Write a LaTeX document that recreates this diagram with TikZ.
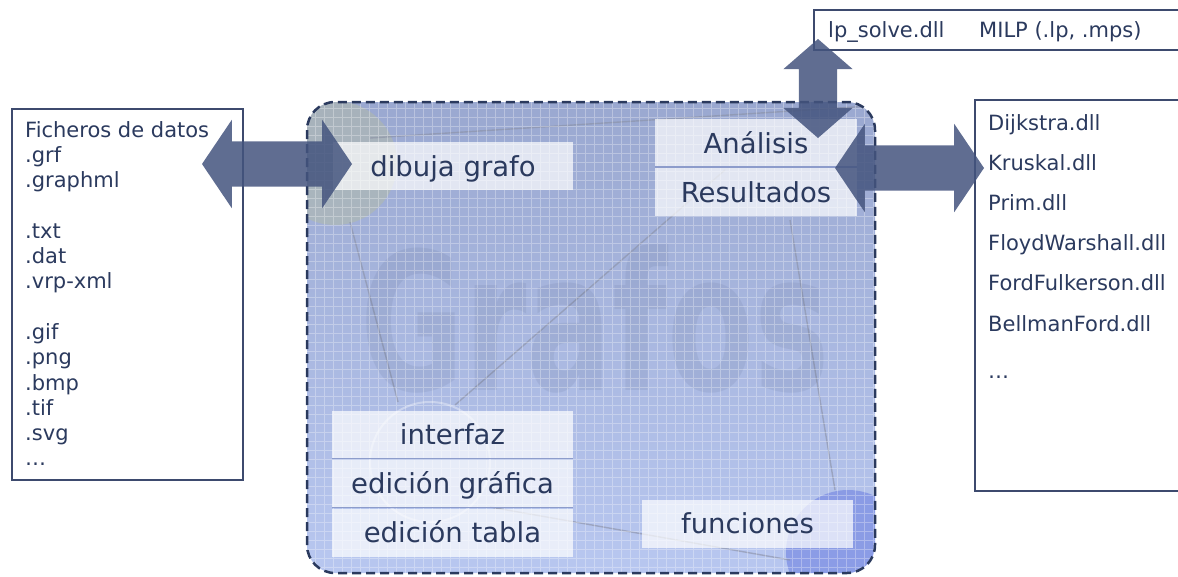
\documentclass[tikz,border=0pt]{standalone}
\usepackage{fontspec}
\setmainfont{DejaVu Sans}
\usetikzlibrary{positioning, shapes.arrows}

\definecolor{ink}{HTML}{2B3A5E}
\definecolor{boxline}{HTML}{3D4A6E}
\definecolor{arrowfill}{HTML}{44547E}
\definecolor{paneltop}{HTML}{9AA8D0}
\definecolor{panelbottom}{HTML}{B8C7F0}
\definecolor{sepline}{HTML}{8D9CCB}
\definecolor{edgegray}{HTML}{8A90A4}
\definecolor{nodegreen}{HTML}{B2BBAA}
\definecolor{nodeblue}{HTML}{7D8FE3}

\begin{document}
\begin{tikzpicture} [x=1pt,y=-1pt,node distance=49pt,on grid,
   band/.style={fill=white, fill opacity=0.7, text opacity=1, text=ink, inner sep=0pt,
      minimum height=48pt, text height=20pt, text depth=0pt, font=\fontsize{27.5}{30}\selectfont},
   listitem/.style={anchor=base west, text=ink, inner sep=0pt, font=\fontsize{21}{25}\selectfont},
   listbox/.style={draw=boxline, line width=1.5pt, fill=white, inner sep=0pt, anchor=north west},
   biarrow/.style={double arrow, fill=arrowfill, fill opacity=0.85, inner sep=0pt,
      minimum width=0pt, double arrow head extend=21.5pt, double arrow tip angle=112}]

   \useasboundingbox (0,0) rectangle (1178,576);

   \node[listbox, minimum width=231pt, minimum height=371pt] (datos) at (11,108) {};
   \node[listbox, minimum width=377pt, minimum height=40pt] (lpbox) at (813,9) {};
   \node[listbox, minimum width=216pt, minimum height=391pt] (dllbox) at (974,99) {};

   \foreach \k/\t in {0/Ficheros de datos, 1/.grf, 2/.graphml, 4/.txt, 5/.dat, 6/.vrp-xml,
      8/.gif, 9/.png, 10/.bmp, 11/.tif, 12/.svg, 13/…}
      \node[listitem] (f\k) at (25,{137+25.3*\k}) {\t};

   \foreach \k/\t in {0/Dijkstra.dll, 1/Kruskal.dll, 2/Prim.dll, 3/FloydWarshall.dll,
      4/FordFulkerson.dll, 5/BellmanFord.dll}
      \node[listitem] (d\k) at (988,{130+40.2*\k}) {\t};
   \node[listitem] (dmore) at (988,378) {…};

   \node[listitem] (lpsolve) at (828,37) {lp\_solve.dll};
   \node[listitem] (milp) at (979,37) {MILP (.lp, .mps)};

   \path[top color=paneltop, bottom color=panelbottom, rounded corners=28pt] (307,102) rectangle (875,573);
   \begin{scope}
      \clip[rounded corners=28pt] (307,102) rectangle (875,573);
      \fill[nodegreen, opacity=0.55] (335,163) circle (62);
      \fill[nodeblue, opacity=0.75] (848,552) circle (62);
      \draw[white, opacity=0.35, line width=2pt] (430,462) circle (60);
      \draw[edgegray, opacity=0.6, line width=1.4pt] (370,138) -- (870,106)
         (350,222) -- (398,402) (455,405) -- (725,170) (790,220) -- (835,490)
         (490,507) -- (790,560);
      \node[font=\bfseries\fontsize{192}{192}\selectfont, text=ink, text opacity=0.08,
         inner sep=0pt, xscale=0.66, anchor=base] (marca) at (595,390) {Grafos};
      \draw[white, opacity=0.3, line width=0.6pt, step=9pt] (300,95) grid (880,580);
   \end{scope}

   \node[band, minimum width=240pt] (dibuja) at (453,166) {dibuja grafo};
   \node[band, minimum width=202pt] (analisis) at (756,143) {Análisis};
   \node[band, minimum width=202pt, below=of analisis] (resultados) {Resultados};
   \node[band, minimum width=241pt] (interfaz) at (452.5,434.5) {interfaz};
   \node[band, minimum width=241pt, below=of interfaz] (grafica) {edición gráfica};
   \node[band, minimum width=241pt, below=of grafica] (tabla) {edición tabla};
   \node[band, minimum width=211pt] (funciones) at (747.5,523.5) {funciones};

   \draw[sepline, line width=1.5pt] (analisis.south west) -- (analisis.south east)
      (interfaz.south west) -- (interfaz.south east)
      (grafica.south west) -- (grafica.south east);

   \draw[ink, line width=2.5pt, dash pattern=on 9pt off 5pt, rounded corners=28pt] (307,102) rectangle (875,573);

   \node[biarrow, minimum height=150pt, inner ysep=22.5pt] (datosflecha) at (277,164) {};
   \node[biarrow, minimum height=149pt, inner ysep=22.5pt] (dllflecha) at (909.5,168) {};
   \node[biarrow, minimum height=99pt, inner ysep=19pt, double arrow head extend=15.5pt,
      double arrow tip angle=98, rotate=90] (lpflecha) at (818,88.5) {};

\end{tikzpicture}
\end{document}
